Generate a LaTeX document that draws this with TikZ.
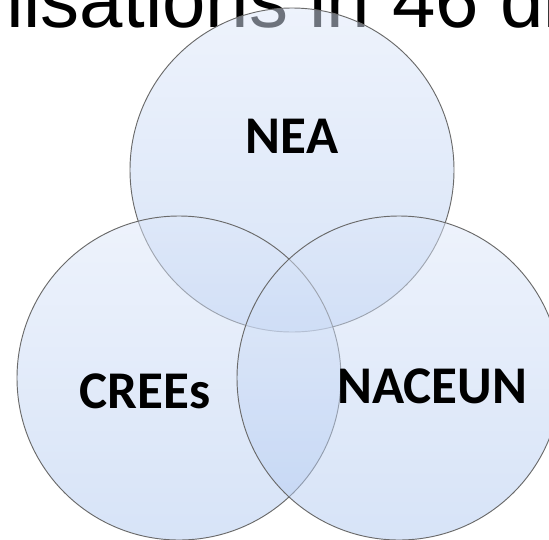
\documentclass[tikz,border=0pt]{standalone}
\usepackage{fontspec}
\setmainfont{Liberation Sans}
\newfontfamily\labelfont{Carlito}
\definecolor{venntop}{HTML}{DDE7F9}
\definecolor{vennbottom}{HTML}{AFC8F0}
\definecolor{vennline}{HTML}{6A6A6A}

\begin{document}
\begin{tikzpicture}[x=0.75pt,y=-0.75pt]
  \clip (0,0) rectangle (549,539);

  \tikzstyle{headline}=[anchor=base west,inner sep=0,font=\fontsize{58.5}{60}\selectfont]
  \tikzstyle{setcircle}=[circle,minimum size=243pt,inner sep=0,draw=vennline,line width=0.7pt,top color=venntop,bottom color=vennbottom,fill opacity=0.5]
  \tikzstyle{setname}=[anchor=base,inner sep=0,font=\labelfont\bfseries\fontsize{39.75}{40}\selectfont]

  \path (-20,27) node[headline](head){nisations in 46 dis};

  \path
  (292,170) node[setcircle](nea){}
  (179,378) node[setcircle](crees){}
  (399,378) node[setcircle](naceun){};

  \path
  (292,153) node[setname](lnea){NEA}
  (145,408) node[setname](lcrees){CREEs}
  (432,403) node[setname](lnaceun){NACEUN};
\end{tikzpicture}
\end{document}
